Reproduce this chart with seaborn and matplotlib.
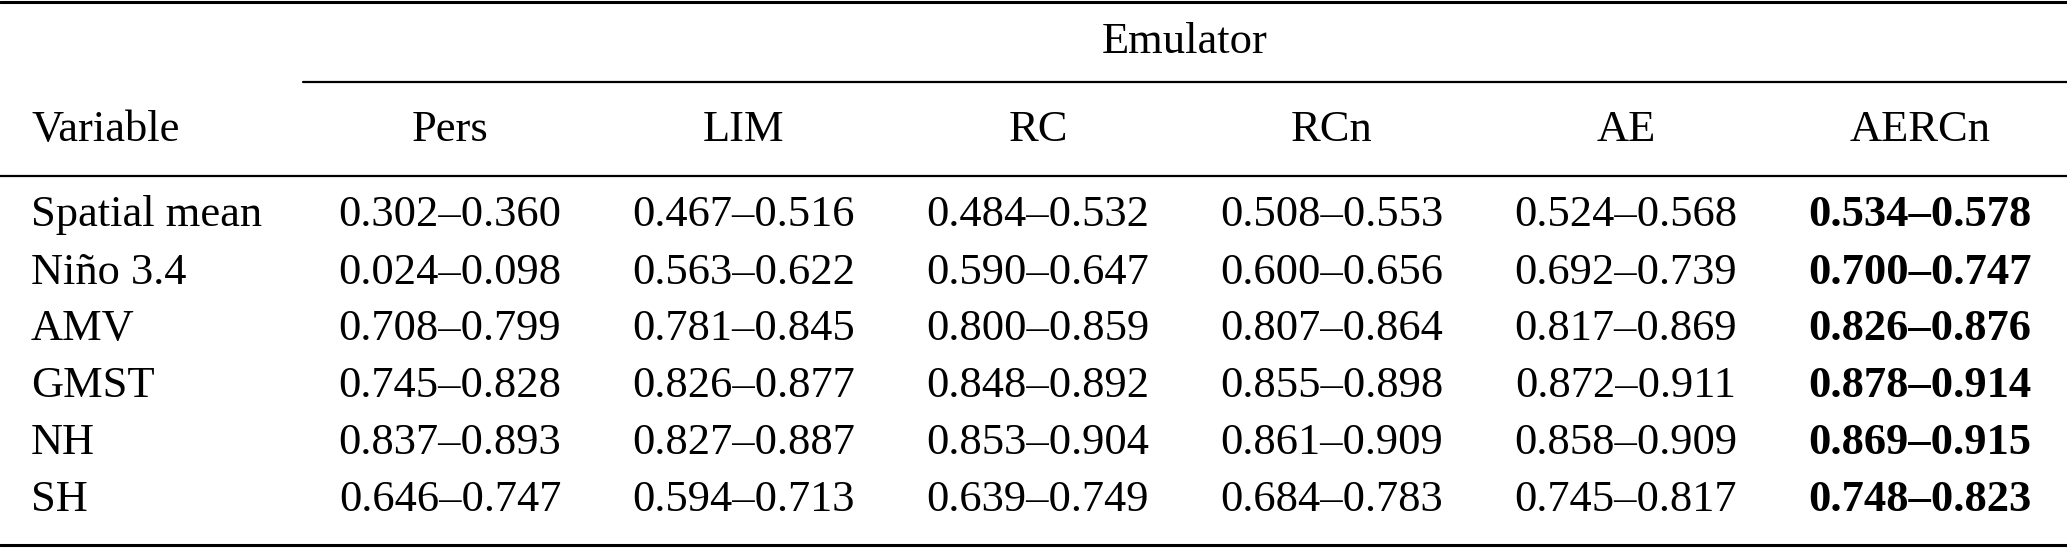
import matplotlib.pyplot as plt
import seaborn as sns

variables = ['Spatial mean', 'Niño 3.4', 'AMV', 'GMST', 'NH', 'SH']
emulators = ['Pers', 'LIM', 'RC', 'RCn', 'AE', 'AERCn']
pers = ['0.302–0.360', '0.024–0.098', '0.708–0.799', '0.745–0.828', '0.837–0.893', '0.646–0.747']
lim = ['0.467–0.516', '0.563–0.622', '0.781–0.845', '0.826–0.877', '0.827–0.887', '0.594–0.713']
rc = ['0.484–0.532', '0.590–0.647', '0.800–0.859', '0.848–0.892', '0.853–0.904', '0.639–0.749']
rcn = ['0.508–0.553', '0.600–0.656', '0.807–0.864', '0.855–0.898', '0.861–0.909', '0.684–0.783']
ae = ['0.524–0.568', '0.692–0.739', '0.817–0.869', '0.872–0.911', '0.858–0.909', '0.745–0.817']
aercn = ['0.534–0.578', '0.700–0.747', '0.826–0.876', '0.878–0.914', '0.869–0.915', '0.748–0.823']
columns = [pers, lim, rc, rcn, ae, aercn]

sns.set_style('white')
plt.rcParams['font.family'] = ['Liberation Serif', 'DejaVu Serif']
plt.rcParams['text.color'] = 'black'

W, H = 2067, 549
fig = plt.figure(figsize=(W / 100, H / 100), dpi=100)
ax = fig.add_axes([0, 0, 1, 1])
ax.set_xlim(0, W)
ax.set_ylim(H, 0)
ax.axis('off')

fs = 32
col_x = [450, 744, 1038, 1332, 1626, 1920]
row_y = [215, 273, 329, 386, 443, 500]

# rules
ax.axhline(2, color='black', lw=2.2)
ax.plot([303, W], [82, 82], color='black', lw=1.6)
ax.axhline(176, color='black', lw=1.6)
ax.axhline(545, color='black', lw=2.2)

ax.text(1185, 42, 'Emulator', fontsize=fs, ha='center', va='center')
ax.text(31, 130, 'Variable', fontsize=fs, ha='left', va='center')
for x, name in zip(col_x, emulators):
    ax.text(x, 130, name, fontsize=fs, ha='center', va='center')

for y, var in zip(row_y, variables):
    ax.text(31, y, var, fontsize=fs, ha='left', va='center')
for j, (x, col) in enumerate(zip(col_x, columns)):
    bold = j == len(columns) - 1
    for y, val in zip(row_y, col):
        ax.text(x, y, val, fontsize=fs, ha='center', va='center',
                fontweight='bold' if bold else 'normal')

fig.savefig('out.png', dpi=100)
